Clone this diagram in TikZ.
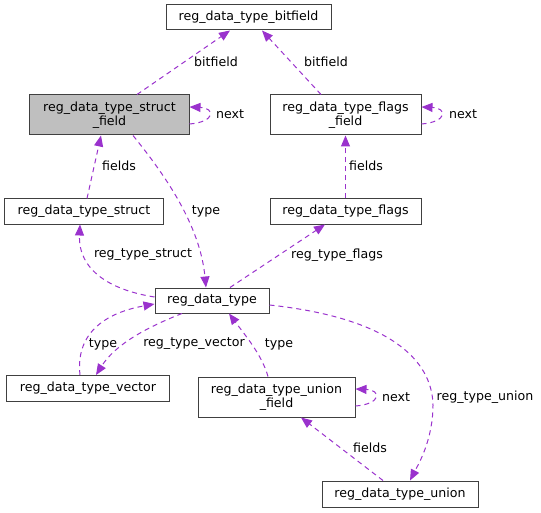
\documentclass[tikz,border=0pt]{standalone}
\usepackage{fontspec}
\setmainfont{DejaVu Sans}
\usetikzlibrary{arrows.meta}
\definecolor{edgec}{RGB}{154,50,205}
\definecolor{boxline}{RGB}{64,64,64}
\definecolor{boxgray}{RGB}{191,191,191}
\tikzset{
  cls/.style={draw=boxline, line width=1bp, fill=white, inner sep=0pt, align=center,
    font=\fontsize{12.6bp}{14bp}\selectfont},
  edge/.style={draw=edgec, line width=1bp, dash pattern=on 5bp off 4bp,
    -{Triangle[length=11bp,width=9bp,fill=edgec]}},
  lbl/.style={font=\fontsize{12.6bp}{14bp}\selectfont, inner sep=0pt, text=black}
}
\begin{document}
\begin{tikzpicture}[x=1bp,y=-1bp]
\useasboundingbox (0,0) rectangle (541,513);
% nodes
\node[cls, minimum width=165bp, minimum height=25bp] (bf) at (248.5,17.5) {reg\_data\_type\_bitfield};
\node[cls, fill=boxgray, minimum width=159bp, minimum height=40bp] (sf) at (109.5,115) {reg\_data\_type\_struct\\\_field};
\node[cls, minimum width=151bp, minimum height=40bp] (ff) at (345.5,115) {reg\_data\_type\_flags\\\_field};
\node[cls, minimum width=158bp, minimum height=25bp] (st) at (84,211.5) {reg\_data\_type\_struct};
\node[cls, minimum width=151bp, minimum height=25bp] (fl) at (345.5,211.5) {reg\_data\_type\_flags};
\node[cls, minimum width=114bp, minimum height=25bp] (rdt) at (212,300.5) {reg\_data\_type};
\node[cls, minimum width=162bp, minimum height=26bp] (vec) at (88,388.5) {reg\_data\_type\_vector};
\node[cls, minimum width=157bp, minimum height=40bp] (uf) at (276.5,397) {reg\_data\_type\_union\\\_field};
\node[cls, minimum width=156bp, minimum height=26bp] (un) at (400,494) {reg\_data\_type\_union};
% edges
\draw[edge] ([xshift=27.5bp]sf.north) -- ([xshift=-18.5bp]bf.south);
\draw[edge] ([xshift=-24.5bp]ff.north) -- ([xshift=13.5bp]bf.south);
\draw[edge] ([yshift=-9bp]sf.east) .. controls +(26,-2) and +(26,1) .. ([yshift=8bp]sf.east);
\draw[edge] ([yshift=-9bp]ff.east) .. controls +(26,-2) and +(26,1) .. ([yshift=8bp]ff.east);
\draw[edge] ([yshift=-9bp]uf.east) .. controls +(26,-2) and +(26,1) .. ([yshift=8bp]uf.east);
\draw[edge] ([xshift=3bp]st.north) -- ([xshift=-8.5bp]sf.south);
\draw[edge] (fl.north) -- (ff.south);
\draw[edge] ([xshift=23.5bp]sf.south) .. controls (165,175) and (200,225) .. ([xshift=-6bp]rdt.north);
\draw[edge] ([yshift=3.5bp]rdt.west) .. controls (110,290) and (78,270) .. ([xshift=-4bp]st.south);
\draw[edge] ([xshift=18bp]rdt.north) -- ([xshift=-20.5bp]fl.south);
\draw[edge] ([xshift=-8bp]vec.north) .. controls (75,330) and (110,312) .. ([yshift=-3.5bp]rdt.west);
\draw[edge] ([xshift=-30bp]rdt.south) .. controls (145,328) and (115,345) .. ([xshift=8bp]vec.north);
\draw[edge] ([xshift=-8.5bp]uf.north) .. controls (262,355) and (245,335) .. ([xshift=17bp]rdt.south);
\draw[edge] ([xshift=-17bp]un.north) -- ([xshift=24.5bp]uf.south);
\draw[edge] ([yshift=-4.5bp]rdt.east) .. controls (390,318) and (432,360) .. (433,405) .. controls (433,440) and (418,465) .. ([xshift=10bp]un.north);
% labels
\node[lbl] (l1) at (216,62) {bitfield};
\node[lbl] (l2) at (326,62) {bitfield};
\node[lbl] (l3) at (230,114) {next};
\node[lbl] (l4) at (463,114) {next};
\node[lbl] (l5) at (119,166) {fields};
\node[lbl] (l6) at (366,166) {fields};
\node[lbl] (l7) at (206,211) {type};
\node[lbl] (l8) at (143,255) {reg\_type\_struct};
\node[lbl] (l9) at (337,255) {reg\_type\_flags};
\node[lbl] (l10) at (103,344) {type};
\node[lbl] (l11) at (194,344) {reg\_type\_vector};
\node[lbl] (l12) at (279,344) {type};
\node[lbl] (l13) at (396,397) {next};
\node[lbl] (l14) at (370,448) {fields};
\node[lbl] (l15) at (485,397) {reg\_type\_union};
\end{tikzpicture}
\end{document}
